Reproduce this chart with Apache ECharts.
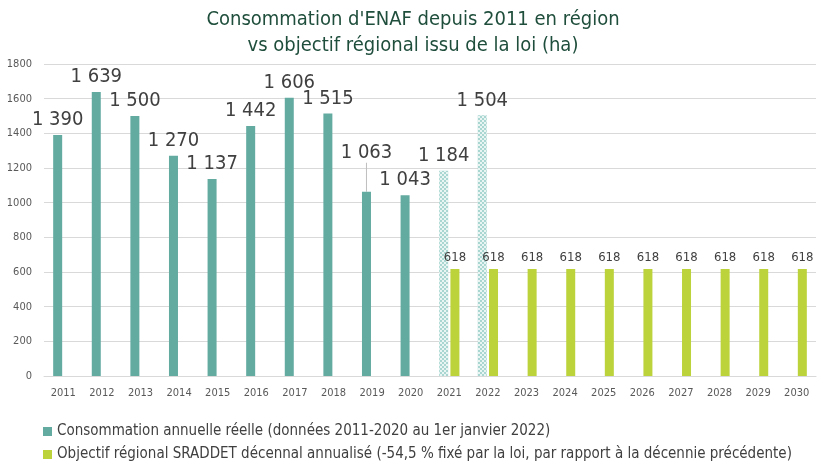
<!DOCTYPE html>
<html>
<head>
<meta charset="utf-8">
<script src="https://cdn.jsdelivr.net/npm/echarts@6/dist/echarts.min.js"></script>
<style>
  html, body { margin: 0; padding: 0; background: #fff; }
  #chartmain { width: 826px; height: 465px; }
</style>
</head>
<body>
<div id="chartmain"></div>
<script>
// années
var years = ['2011', '2012', '2013', '2014', '2015', '2016', '2017', '2018', '2019', '2020',
             '2021', '2022', '2023', '2024', '2025', '2026', '2027', '2028', '2029', '2030'];
// consommation annuelle réelle (ha)
var conso = [1390, 1639, 1500, 1270, 1137, 1442, 1606, 1515, 1063, 1043, 1184, 1504,
             null, null, null, null, null, null, null, null];
// objectif SRADDET annualisé (ha)
var objectif = [null, null, null, null, null, null, null, null, null, null,
                618, 618, 618, 618, 618, 618, 618, 618, 618, 618];
// années provisoires (barres hachurées)
var provisoire = ['2021', '2022'];
var yTicks = { min: 0, max: 1800, interval: 200 };

var fontName = 'DejaVu Sans Condensed';
var teal = '#63aaa1';
var green = '#bdd33b';
var nameConso = 'Consommation annuelle réelle (données 2011-2020 au 1er janvier 2022)';
var nameObj = 'Objectif régional SRADDET décennal annualisé (-54,5 % fixé par la loi, par rapport à la décennie précédente)';

// espace comme séparateur de milliers
function fmt(v) {
    return String(v).replace(/\B(?=(\d{3})+(?!\d))/g, ' ');
}

var consoData = [];
for (let i = 0; i < years.length; i++) {
    var item = { value: conso[i] };
    if (provisoire.indexOf(years[i]) >= 0) {
        item.itemStyle = {
            color: '#a9d6d0',
            decal: {
                symbol: 'rect',
                color: 'rgba(255,255,255,0.75)',
                symbolSize: 1,
                dashArrayX: [[2, 2], [0, 2, 2, 0]],
                dashArrayY: [2, 0],
                rotation: 0
            }
        };
    }
    // 2019 : trait de rappel
    if (years[i] === '2019') {
        item.labelLine = { show: true, lineStyle: { color: '#bfbfbf', width: 1 } };
    }
    consoData.push(item);
}

var legendText = { fontFamily: fontName, fontSize: 15, color: '#404040' };

var myChart = echarts.init(document.getElementById('chartmain'));
var option = {
    animation: false,
    textStyle: { fontFamily: fontName },
    title: {
        text: "Consommation d'ENAF depuis 2011 en région\nvs objectif régional issu de la loi (ha)",
        left: 'center',
        top: 2,
        textStyle: {
            fontFamily: fontName,
            fontSize: 20,
            fontWeight: 'normal',
            color: '#1f4e3c',
            lineHeight: 26
        }
    },
    grid: { left: 44, right: 10, top: 64, bottom: 89 },
    legend: [{
        left: 38, top: 419,
        itemWidth: 9, itemHeight: 9, itemGap: 4, icon: 'rect',
        textStyle: legendText,
        data: [nameConso]
    }, {
        left: 38, top: 442,
        itemWidth: 9, itemHeight: 9, itemGap: 4, icon: 'rect',
        textStyle: legendText,
        data: [nameObj]
    }],
    xAxis: {
        type: 'category',
        data: years,
        axisLine: { lineStyle: { color: '#d9d9d9' } },
        axisTick: { show: false },
        axisLabel: { color: '#595959', fontSize: 11, margin: 12 }
    },
    yAxis: {
        type: 'value',
        min: yTicks.min,
        max: yTicks.max,
        interval: yTicks.interval,
        axisLine: { show: false },
        axisTick: { show: false },
        axisLabel: { color: '#595959', fontSize: 11, margin: 12, formatter: function (v) { return String(v); } },
        splitLine: { lineStyle: { color: '#d9d9d9' } }
    },
    series: [{
        name: nameConso,
        type: 'bar',
        barWidth: 9,
        barGap: '25%',
        itemStyle: { color: teal },
        data: consoData,
        label: {
            show: true,
            position: 'top',
            distance: 5,
            fontSize: 20,
            color: '#404040',
            formatter: function (p) { return fmt(p.value); }
        },
        labelLayout: function (params) {
            if (params.dataIndex === 8) {
                return { dy: -24 };
            }
        }
    }, {
        name: nameObj,
        type: 'bar',
        barWidth: 9,
        itemStyle: { color: green },
        data: objectif,
        label: {
            show: true,
            position: 'top',
            distance: 5,
            fontSize: 13,
            color: '#404040'
        }
    }]
};
myChart.setOption(option);
</script>
</body>
</html>
